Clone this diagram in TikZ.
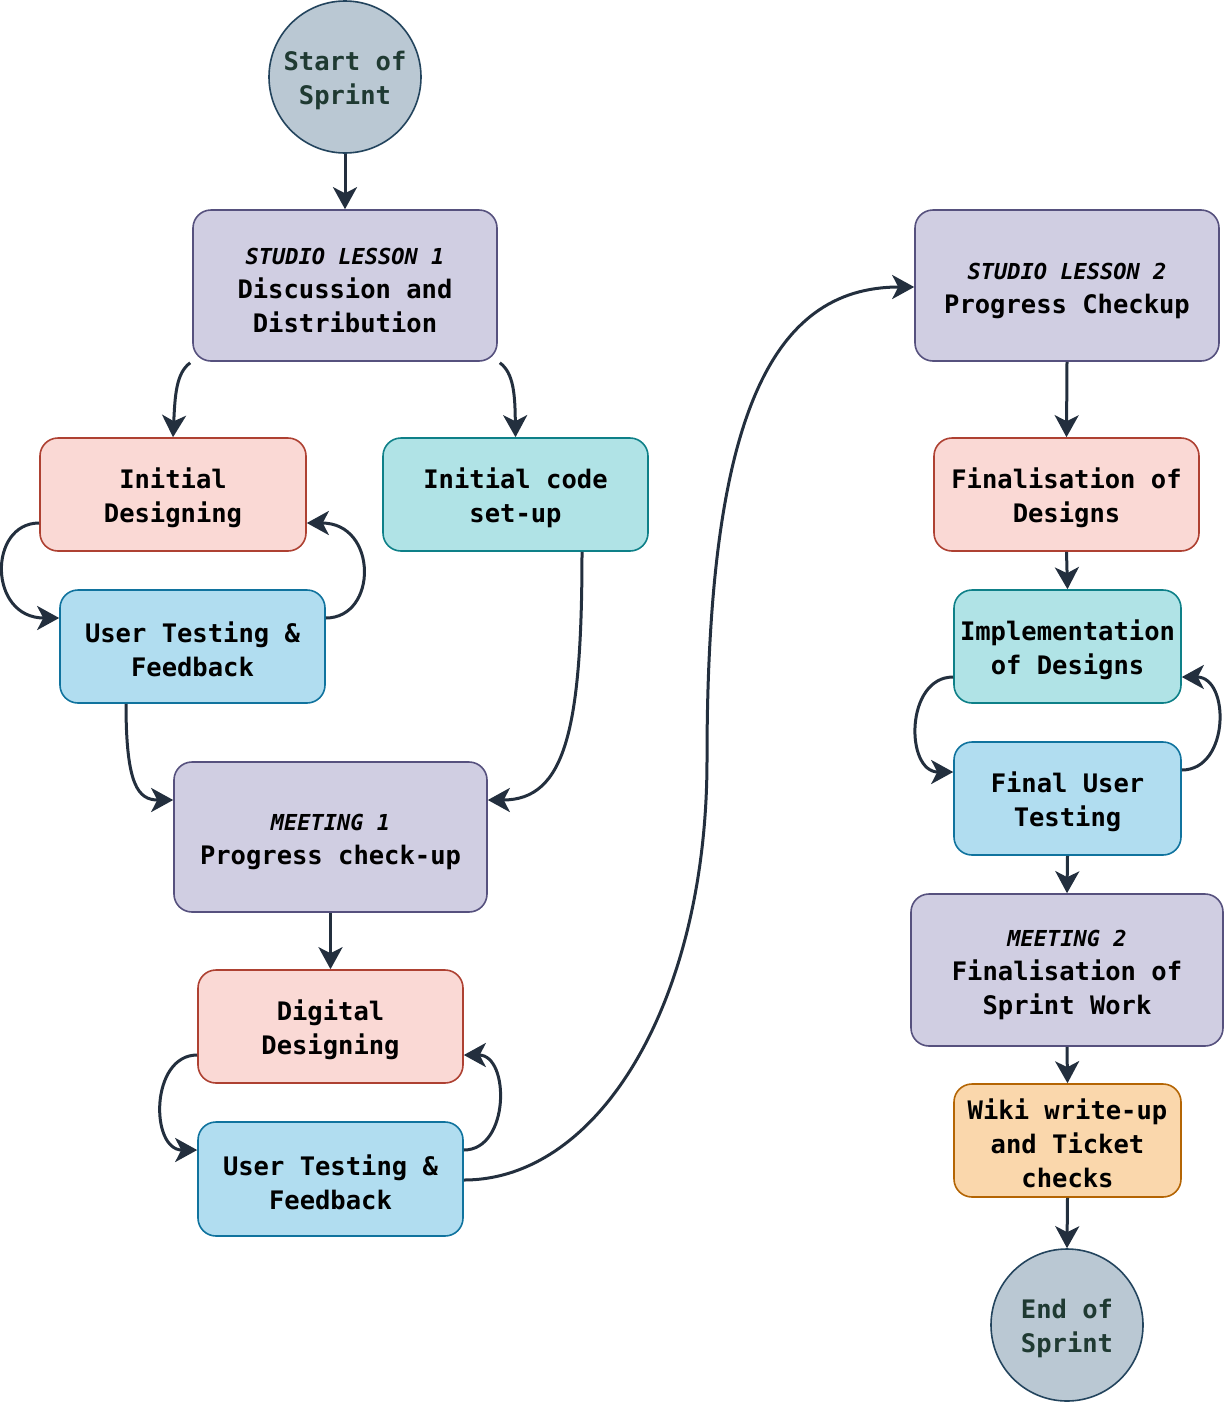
\documentclass[tikz,border=0pt]{standalone}
\usepackage{fontspec}
\setmonofont{DejaVu Sans Mono}
\usetikzlibrary{arrows.meta}

\definecolor{lavfill}{HTML}{D0CEE2}\definecolor{lavline}{HTML}{56517E}
\definecolor{redfill}{HTML}{FAD9D5}\definecolor{redline}{HTML}{AE4132}
\definecolor{tealfill}{HTML}{B0E3E6}\definecolor{tealline}{HTML}{0E8088}
\definecolor{bluefill}{HTML}{B1DDF0}\definecolor{blueline}{HTML}{10739E}
\definecolor{orgfill}{HTML}{FAD7AC}\definecolor{orgline}{HTML}{B46504}
\definecolor{endfill}{HTML}{BAC8D3}\definecolor{endline}{HTML}{23445D}
\definecolor{endtext}{HTML}{1F3A32}
\definecolor{flow}{HTML}{232F3E}

% italic heading line inside the meeting boxes
\newcommand{\kicker}[1]{{\fontsize{22}{33}\selectfont\itshape #1}}
% invisible rule giving the first line extra room above
\newcommand{\lift}{\rule{0pt}{27pt}}

\tikzset{
  box/.style={rounded corners=18pt, line width=1.6pt, align=center,
    font=\ttfamily\bfseries\fontsize{25.5}{34}\selectfont, inner sep=0pt},
  meet/.style={box, fill=lavfill, draw=lavline},
  redbox/.style={box, fill=redfill, draw=redline},
  tealbox/.style={box, fill=tealfill, draw=tealline},
  bluebox/.style={box, fill=bluefill, draw=blueline},
  orgbox/.style={box, fill=orgfill, draw=orgline},
  terminal/.style={circle, minimum size=152pt, inner sep=0pt, fill=endfill,
    draw=endline, line width=1.6pt, align=center, text=endtext,
    font=\ttfamily\bfseries\fontsize{25.5}{34}\selectfont},
  flowline/.style={draw=flow, line width=3pt,
    -{Stealth[length=22pt, width=24pt, inset=6pt]}},
}

\begin{document}
\begin{tikzpicture}[x=1pt, y=-1pt]
\useasboundingbox (0,0) rectangle (1226,1403);

% left column
\node[terminal] (start) at (345,77) {\lift Start of\\Sprint};
\node[meet, minimum width=304pt, minimum height=151pt] (sl1) at (345,285.5)
  {\lift\kicker{STUDIO LESSON 1}\\Discussion and\\Distribution};
\node[redbox, minimum width=266pt, minimum height=113pt] (initdes) at (173,494.5)
  {\lift Initial\\Designing};
\node[tealbox, minimum width=265pt, minimum height=113pt] (initcode) at (515.5,494.5)
  {\lift Initial code\\set-up};
\node[bluebox, minimum width=265pt, minimum height=113pt] (ut1) at (192.5,646.5)
  {\lift User Testing \&\\Feedback};
\node[meet, minimum width=313pt, minimum height=150pt] (m1) at (330.5,837)
  {\lift\kicker{MEETING 1}\\Progress check-up};
\node[redbox, minimum width=265pt, minimum height=113pt] (digdes) at (330.5,1026.5)
  {\lift Digital\\Designing};
\node[bluebox, minimum width=265pt, minimum height=114pt] (ut2) at (330.5,1179)
  {\lift User Testing \&\\Feedback};

% right column
\node[meet, minimum width=304pt, minimum height=151pt] (sl2) at (1067,285.5)
  {\lift\kicker{STUDIO LESSON 2}\\Progress Checkup};
\node[redbox, minimum width=265pt, minimum height=113pt] (findes) at (1066.5,494.5)
  {\lift Finalisation of\\Designs};
\node[tealbox, minimum width=227pt, minimum height=113pt] (impl) at (1067.5,646.5)
  {\lift Implementation\\of Designs};
\node[bluebox, minimum width=227pt, minimum height=113pt] (fut) at (1067.5,798.5)
  {\lift Final User\\Testing};
\node[meet, minimum width=312pt, minimum height=152pt] (m2) at (1067,970)
  {\lift\kicker{MEETING 2}\\Finalisation of\\Sprint Work};
\node[orgbox, minimum width=227pt, minimum height=113pt] (wiki) at (1067.5,1140.5)
  {\lift Wiki write-up\\and Ticket\\checks};
\node[terminal] (finish) at (1067,1325) {\lift End of\\Sprint};

% straight flows
\draw[flowline] (start.south) -- (sl1.north);
\draw[flowline] (m1.south) -- (digdes.north);
\draw[flowline] (sl2.south) -- (findes.north);
\draw[flowline] (findes.south) -- (impl.north);
\draw[flowline] (fut.south) -- (m2.north);
\draw[flowline] (m2.south) -- (wiki.north);
\draw[flowline] (wiki.south) -- (finish.north);

% branches out of the first studio lesson
\draw[flowline] (sl1.south west) ++(-2,1) coordinate (a1)
  (a1) .. controls (176,373) and (175,396) .. (initdes.north);
\draw[flowline] (sl1.south east) ++(2,1) coordinate (a2)
  (a2) .. controls (514,373) and (515,396) .. (initcode.north);

% design / testing loops
\draw[flowline] (initdes.west |- 0,523) .. controls (-12,523) and (-12,618) .. (ut1.west |- 0,618);
\draw[flowline] (ut1.east |- 0,618) .. controls (378,618) and (378,523) .. (initdes.east |- 0,523);
\draw[flowline] (digdes.west |- 0,1055) .. controls (150,1055) and (150,1150) .. (ut2.west |- 0,1150);
\draw[flowline] (ut2.east |- 0,1150) .. controls (510,1150) and (510,1055) .. (digdes.east |- 0,1055);
\draw[flowline] (impl.west |- 0,677) .. controls (905,677) and (905,772) .. (fut.west |- 0,772);
\draw[flowline] (fut.east |- 0,770) .. controls (1230,770) and (1230,677) .. (impl.east |- 0,677);

% into the first meeting
\draw[flowline] (ut1.south -| 126,0) .. controls (126,785) and (138,800) .. (m1.west |- 0,800);
\draw[flowline] (initcode.south -| 582,0) .. controls (582,730) and (565,800) .. (m1.east |- 0,800);

% across to the second studio lesson
\coordinate (mid) at (707,760);
\draw[flowline] (ut2.east |- 0,1180) .. controls (600,1180) and (707,1000) .. (mid)
  .. controls (707,420) and (770,287) .. (sl2.west |- 0,287);
\end{tikzpicture}
\end{document}
